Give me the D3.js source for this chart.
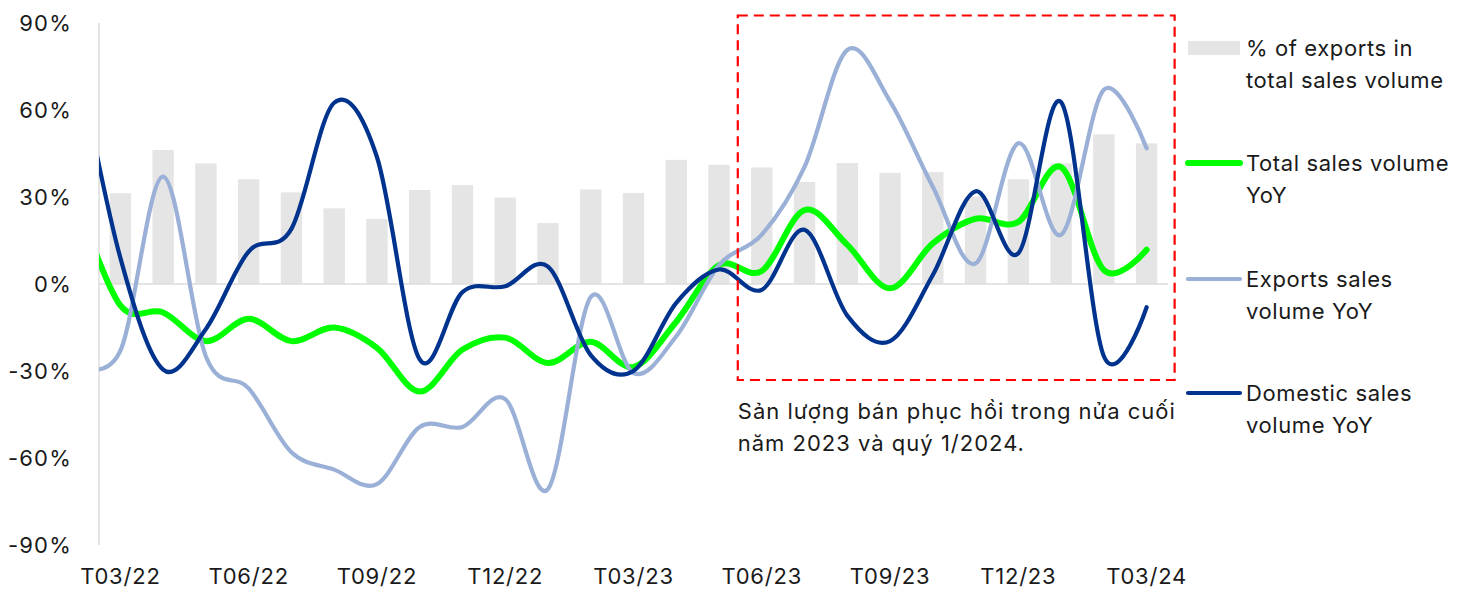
<!DOCTYPE html>
<html>
<head>
<meta charset="utf-8">
<script src="https://cdn.jsdelivr.net/npm/d3@7"></script>
<style>
  html, body { margin: 0; padding: 0; background: #fff; }
  svg { display: block; font-family: Inter, "Noto Sans", sans-serif; }
</style>
</head>
<body>
<svg id="chart" width="1469" height="591"></svg>
<script>
// ---- data ----
const months = ["T03/22","T04/22","T05/22","T06/22","T07/22","T08/22","T09/22","T10/22","T11/22","T12/22","T01/23","T02/23","T03/23","T04/23","T05/23","T06/23","T07/23","T08/23","T09/23","T10/23","T11/23","T12/23","T01/24","T02/24","T03/24"];
const tickLabels = ["T03/22","T06/22","T09/22","T12/22","T03/23","T06/23","T09/23","T12/23","T03/24"];
const yTicks = [-90, -60, -30, 0, 30, 60, 90];
// previous month (T02/22) value, only partly visible at the left edge
const leadMonth = "T02/22";
const exportShare = [31.3, 46.2, 41.6, 36.1, 31.6, 26.1, 22.4, 32.4, 34.1, 29.8, 21.0, 32.6, 31.4, 42.8, 41.1, 40.2, 35.2, 41.7, 38.3, 38.6, 30.1, 36.1, 41.6, 51.6, 48.5];
const totalYoY = [28, -7.4, -9.8, -19.7, -12, -19.7, -15, -22, -37.1, -22.6, -18.5, -27.2, -19.9, -28.6, -13, 6.5, 4.5, 25.5, 13.5, -1.5, 14, 22.5, 21.4, 40.3, 4.8, 11.8];
const exportsYoY = [-28, -23, 37, -25, -36, -58, -64, -69, -49.3, -49.3, -39.7, -70.7, -4.5, -30.7, -18, 6.5, 17, 40.4, 80.7, 63, 33.5, 7.1, 48.5, 17, 67, 46.8];
const domesticYoY = [78, 9, -29.5, -15.5, 11.2, 19, 62.5, 43.8, -26, -2.8, -0.8, 6, -24.5, -30, -6.5, 5, -2, 18.7, -10.9, -19.7, 3.1, 32, 10.6, 62.7, -24.9, -8];
const legendLabels = [["% of exports in", "total sales volume"], ["Total sales volume", "YoY"], ["Exports sales", "volume YoY"], ["Domestic sales", "volume YoY"]];
const noteLines = ["Sản lượng bán phục hồi trong nửa cuối", "năm 2023 và quý 1/2024."];
const noteFrom = "T06/23", noteTo = "T03/24";

// ---- layout ----
const svg = d3.select("#chart");
const pL = 99, pR = 1168, pT = 23, pB = 545;
const colors = { bar: "#E5E5E5", total: "#00FF00", exports: "#9BB0D6", domestic: "#00338D", text: "#1A1A1A", grid: "#DDDDDD" };
const fs = 22;

const x = d3.scaleBand().domain(months).range([pL, pR]).paddingInner(0.5).paddingOuter(0.25);
const y = d3.scaleLinear().domain([-90, 90]).range([pB, pT]);
const bw = x.bandwidth();
const xi = d3.scaleLinear().domain([0, months.length - 1])
  .range([x(months[0]) + bw / 2, x(months[months.length - 1]) + bw / 2]);

// clip
svg.append("defs").append("clipPath").attr("id", "plotclip")
  .append("rect").attr("x", pL).attr("y", 0).attr("width", pR - pL + 20).attr("height", 591);

// y axis labels
svg.append("g").selectAll("text").data(yTicks).join("text")
  .attr("x", 72).attr("y", d => y(d)).attr("dy", "0.35em")
  .attr("text-anchor", "end").attr("font-size", fs).attr("letter-spacing", 1.2).attr("fill", colors.text)
  .text(d => d + "%");

// bars
svg.append("g").selectAll("rect").data(exportShare).join("rect")
  .attr("x", (d, i) => x(months[i])).attr("width", bw)
  .attr("y", d => y(d)).attr("height", d => y(0) - y(d))
  .attr("fill", colors.bar);

// axis lines
svg.append("line").attr("x1", pL).attr("x2", pL).attr("y1", pT).attr("y2", pB)
  .attr("stroke", colors.grid).attr("stroke-width", 1.5);
svg.append("line").attr("x1", pL).attr("x2", pR).attr("y1", y(0)).attr("y2", y(0))
  .attr("stroke", colors.grid).attr("stroke-width", 1.5);

// x labels
svg.append("g").selectAll("text").data(tickLabels).join("text")
  .attr("x", d => x(d) + bw / 2).attr("y", 576).attr("dy", "0.35em")
  .attr("text-anchor", "middle").attr("font-size", fs).attr("letter-spacing", 0.8).attr("fill", colors.text)
  .text(d => d);

// lines
const line = d3.line().x((d, i) => xi(i - 1)).y(d => y(d)).curve(d3.curveCatmullRom.alpha(0));
const series = [
  { vals: totalYoY, color: colors.total, w: 6 },
  { vals: exportsYoY, color: colors.exports, w: 4.2 },
  { vals: domesticYoY, color: colors.domestic, w: 4.2 }
];
const lg = svg.append("g").attr("clip-path", "url(#plotclip)");
series.forEach(s => {
  lg.append("path").datum(s.vals).attr("d", line)
    .attr("fill", "none").attr("stroke", s.color).attr("stroke-width", s.w)
    .attr("stroke-linecap", "round").attr("stroke-linejoin", "round");
});

// annotation box
const bx0 = x(noteFrom) + bw / 2 - 24, bx1 = x(noteTo) + bw / 2 + 28;
svg.append("rect").attr("x", bx0).attr("y", 15.5).attr("width", bx1 - bx0).attr("height", 364.5)
  .attr("fill", "none").attr("stroke", "#FF0000").attr("stroke-width", 2.2)
  .attr("stroke-dasharray", "10,6");
svg.append("g").selectAll("text").data(noteLines).join("text")
  .attr("x", bx0).attr("y", (d, i) => 411 + i * 32).attr("dy", "0.35em")
  .attr("font-size", fs).attr("letter-spacing", 1.0).attr("fill", colors.text).text(d => d);

// legend
const lx = 1188, lw = 52, tx = 1246;
const legendY = [48, 163, 279, 393];
const lgd = svg.append("g");
legendLabels.forEach((lab, i) => {
  const cy = legendY[i];
  if (i === 0) {
    lgd.append("rect").attr("x", lx).attr("y", cy - 7).attr("width", lw).attr("height", 14).attr("fill", colors.bar);
  } else {
    const s = series[i - 1];
    lgd.append("line").attr("x1", lx).attr("x2", lx + lw).attr("y1", cy).attr("y2", cy)
      .attr("stroke", s.color).attr("stroke-width", s.w).attr("stroke-linecap", "round");
  }
  lab.forEach((t, j) => {
    lgd.append("text").attr("x", tx).attr("y", cy + j * 32).attr("dy", "0.35em")
      .attr("font-size", fs).attr("letter-spacing", 0.6).attr("fill", colors.text).text(t);
  });
});
</script>
</body>
</html>
